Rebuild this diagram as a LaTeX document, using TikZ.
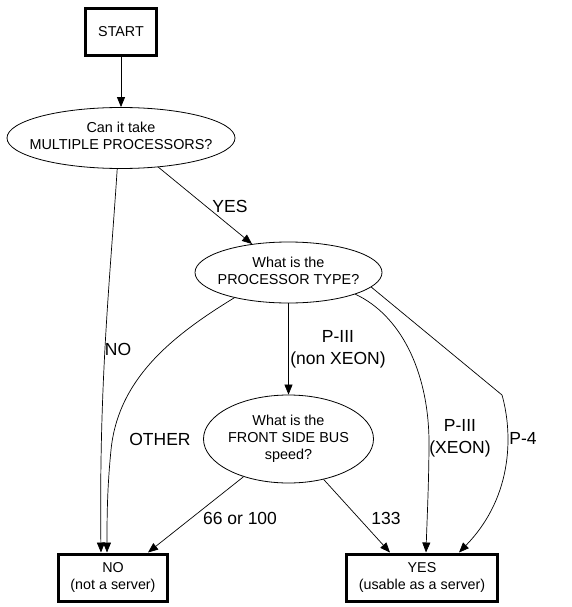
\documentclass[tikz,border=0pt]{standalone}
\usepackage{fontspec}
\setmainfont{Liberation Sans}
\usetikzlibrary{shapes.geometric,arrows.meta}
\tikzset{
  boxnode/.style={draw, line width=3pt, inner sep=0pt, align=center,
    font=\fontsize{14.3}{17}\selectfont},
  ellnode/.style={draw, ellipse, line width=0.8pt, inner sep=0pt,
    font=\fontsize{14.4}{17}\selectfont},
  lbl/.style={inner sep=0pt, align=center, font=\fontsize{17.5}{22}\selectfont},
  edge/.style={line width=0.7pt, -{Triangle[length=10pt,width=8pt]}}
}
\newcommand{\ellt}[1]{\makebox[0pt]{\begin{tabular}{@{}c@{}}#1\end{tabular}}}
\begin{document}
\begin{tikzpicture}[x=1pt,y=-1pt]
\useasboundingbox (0,0) rectangle (571,607);
% nodes
\node[boxnode, minimum width=71pt, minimum height=47pt] (start) at (121,32) {START};
\node[ellnode, minimum width=228pt, minimum height=61pt] (e1) at (121,138)
  {\ellt{Can it take\\MULTIPLE PROCESSORS?}};
\node[ellnode, minimum width=187pt, minimum height=61pt] (e2) at (288.5,272.5)
  {\ellt{What is the\\PROCESSOR TYPE?}};
\node[ellnode, minimum width=170pt, minimum height=88pt] (e3) at (288.5,439)
  {\ellt{What is the\\FRONT SIDE BUS\\speed?}};
\node[boxnode, minimum width=109pt, minimum height=47pt] (no) at (113,577.5)
  {NO\\(not a server)};
\node[boxnode, minimum width=151pt, minimum height=47pt] (yes) at (422,577.5)
  {YES\\(usable as a server)};
% labels
\node[lbl] (lyes) at (230,206) {YES};
\node[lbl] (lno) at (118,349) {NO};
\node[lbl] (lnx) at (338,349) {P-III\\(non XEON)};
\node[lbl] (loth) at (160,439) {OTHER};
\node[lbl] (lx) at (460,438.5) {P-III\\(XEON)};
\node[lbl] (lp4) at (523,438) {P-4};
\node[lbl] (l66) at (240,518) {66 or 100};
\node[lbl] (l133) at (386,518) {133};
% edges
\draw[edge] (start.south) -- (e1.north);
\draw[edge] (e1.322) -- (e2.142);
\draw[edge] (e1.263) .. controls (110,280) and (99,380) .. ([xshift=-12pt]no.north);
\draw[edge] (e2.south) -- (e3.north);
\draw[edge] (e2.205) .. controls (170,337) and (118,380) .. (111,450)
  .. controls (107,490) and (107,520) .. ([xshift=-6pt]no.north);
\draw[edge] (e2.342) .. controls (400,315) and (428,370) .. (429,440)
  .. controls (429,480) and (427,520) .. ([xshift=4pt]yes.north);
\draw[edge] (e2.350) -- (502,395)
  .. controls (512,430) and (515,495) .. ([xshift=37pt]yes.north);
\draw[edge] (e3.220) -- ([xshift=35pt]no.north);
\draw[edge] (e3.311) -- ([xshift=-32pt]yes.north);
\end{tikzpicture}
\end{document}
